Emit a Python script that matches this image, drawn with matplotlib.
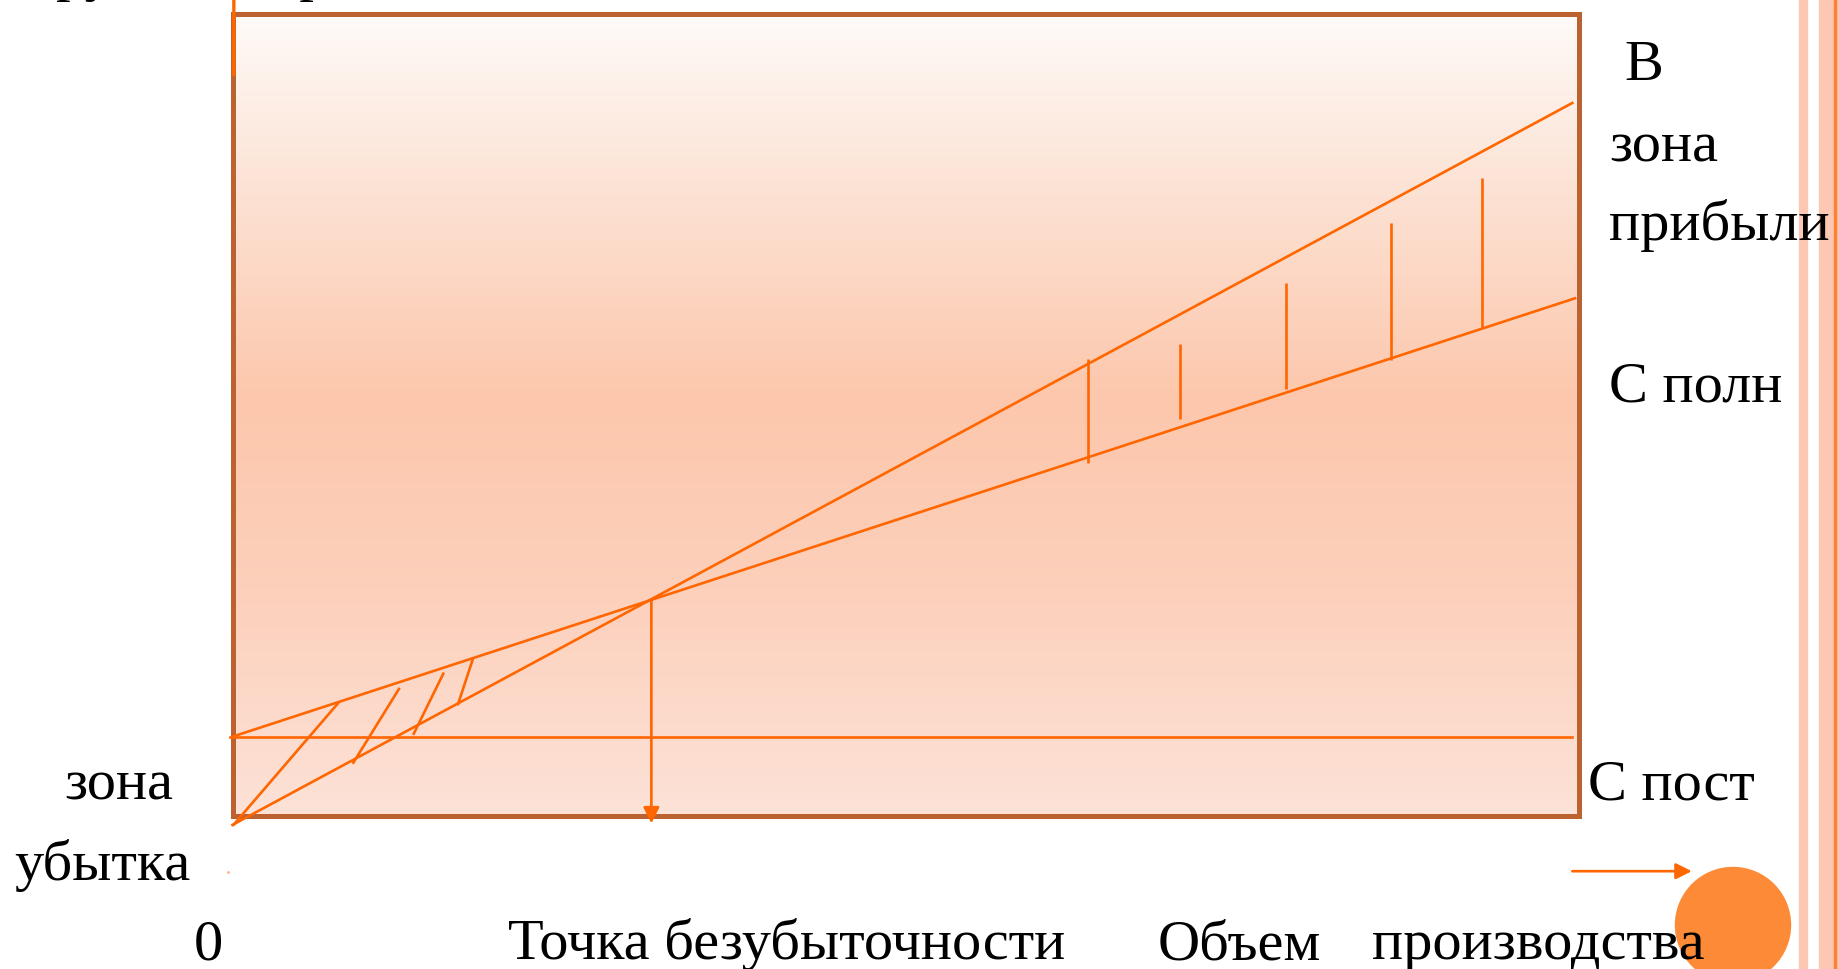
import matplotlib.pyplot as plt
import numpy as np
from matplotlib.colors import LinearSegmentedColormap
from matplotlib.patches import Rectangle, Ellipse

# break-even chart, values in chart units (volume -> x, money -> y)
rev_q = [0.0, 99.8]
rev_v = [0.0, 99.8]
cost_q = [0.0, 100.0]
total_cost = [12.2, 72.8]
fixed_q = [-0.2, 99.8]
fixed_cost = [12.2, 12.2]
breakeven = (31.2, 31.2)

# hatch marks in the profit zone (vertical strokes)
profit_q = [63.7, 70.6, 78.5, 86.3, 93.1]
profit_lo = [50.0, 56.1, 60.3, 64.3, 68.7]
profit_hi = [64.4, 66.5, 74.9, 83.2, 89.4]

# hatch marks in the loss zone (start q, start v, end q, end v)
loss_q0 = [0.07, 9.0, 13.5, 16.8]
loss_v0 = [0.0, 8.6, 12.6, 16.7]
loss_q1 = [7.9, 12.4, 15.7, 17.9]
loss_v1 = [16.9, 18.8, 20.9, 22.9]

W, H = 1839, 969
ORANGE = '#FF6600'
BORDER = '#BC6230'
SALMON = '#FCC8B4'


def fx(x, y):
    # pixel position -> figure fraction
    return x / W, 1 - y / H


plt.rcParams['font.family'] = ['Liberation Serif', 'DejaVu Serif']

fig = plt.figure(figsize=(W / 100, H / 100), dpi=100)
fig.patch.set_facecolor('white')

# plot box
ax = fig.add_axes([232.5 / W, 1 - 815.5 / H, 1346 / W, 801.5 / H])
ax.set_xlim(0, 100.26)
ax.set_ylim(1.3, 112.1)
ax.axis('off')

cmap = LinearSegmentedColormap.from_list(
    'bg', [(0.0, '#FFFBF9'), (0.12, '#FDEDE4'), (0.48, '#FCC7AC'),
           (0.72, '#FCD0BB'), (1.0, '#FDE2D7')])
grad = np.linspace(0, 1, 256).reshape(-1, 1)
ax.imshow(grad, extent=(0, 100.26, 1.3, 112.1), origin='upper',
          aspect='auto', cmap=cmap, zorder=0)
ax.add_patch(Rectangle((0, 0), 1, 1, transform=ax.transAxes, fill=False,
                       ec=BORDER, lw=3.6, joinstyle='miter', clip_on=False,
                       zorder=1))

lw = 1.9
ax.plot(rev_q, rev_v, color=ORANGE, lw=lw, clip_on=False, zorder=3)
ax.plot(cost_q, total_cost, color=ORANGE, lw=lw, clip_on=False, zorder=3)
ax.plot(fixed_q, fixed_cost, color=ORANGE, lw=lw, clip_on=False, zorder=3)
ax.vlines(profit_q, profit_lo, profit_hi, color=ORANGE, lw=lw, zorder=3)
for q0, v0, q1, v1 in zip(loss_q0, loss_v0, loss_q1, loss_v1):
    ax.plot([q0, q1], [v0, v1], color=ORANGE, lw=lw, clip_on=False, zorder=3)

# drop from break-even point to the volume axis
ax.annotate('', xy=(breakeven[0], 0.2), xytext=breakeven,
            arrowprops=dict(arrowstyle='-|>', color=ORANGE, lw=lw,
                            mutation_scale=24, shrinkA=0, shrinkB=0),
            annotation_clip=False, zorder=3)
# money axis (only its top is visible)
ax.annotate('', xy=(0.1, 116.5), xytext=(0.1, 103.7),
            arrowprops=dict(arrowstyle='-|>', color=ORANGE, lw=2.4,
                            mutation_scale=20, shrinkA=0, shrinkB=0),
            annotation_clip=False, zorder=3)
# volume axis arrow bottom right
ax.annotate('', xy=(108.7, -6.4), xytext=(99.8, -6.4),
            arrowprops=dict(arrowstyle='-|>', color=ORANGE, lw=lw,
                            mutation_scale=24, shrinkA=0, shrinkB=0),
            annotation_clip=False, zorder=3)
ax.plot([-0.3], [-6.5], 'o', ms=2, color='#FFB07A', mec='none', clip_on=False)

# decoration: orange disc and right stripes
fig.add_artist(Ellipse(fx(1733, 925), 115 / W, 115 / H, color='#FD8A36', zorder=2))
fig.add_artist(Rectangle(fx(1799, H), 8 / W, 1, color=SALMON, zorder=1))
fig.add_artist(Rectangle(fx(1819, H), 20 / W, 1, color=SALMON, zorder=1))
fig.add_artist(Rectangle(fx(1834, H), 2 / W, 1, color='#FF8030', zorder=1))

labels = ['Выручка, затраты', 'В', 'зона', 'прибыли', 'С полн', 'С пост',
          'зона', 'убытка', '0', 'Точка безубыточности', 'Объем', 'производства']
label_px = [(-22, -10), (1624, 80), (1609, 161), (1609, 240), (1609, 401),
            (1588, 800), (64, 800), (14, 880), (194, 959), (508, 959),
            (1158, 959), (1372, 959)]
for text, (x, y) in zip(labels, label_px):
    fig.text(*fx(x, y), text, fontsize=42, color='black',
             ha='left', va='baseline', zorder=5)

fig.savefig('out.png', dpi=100, facecolor='white')
